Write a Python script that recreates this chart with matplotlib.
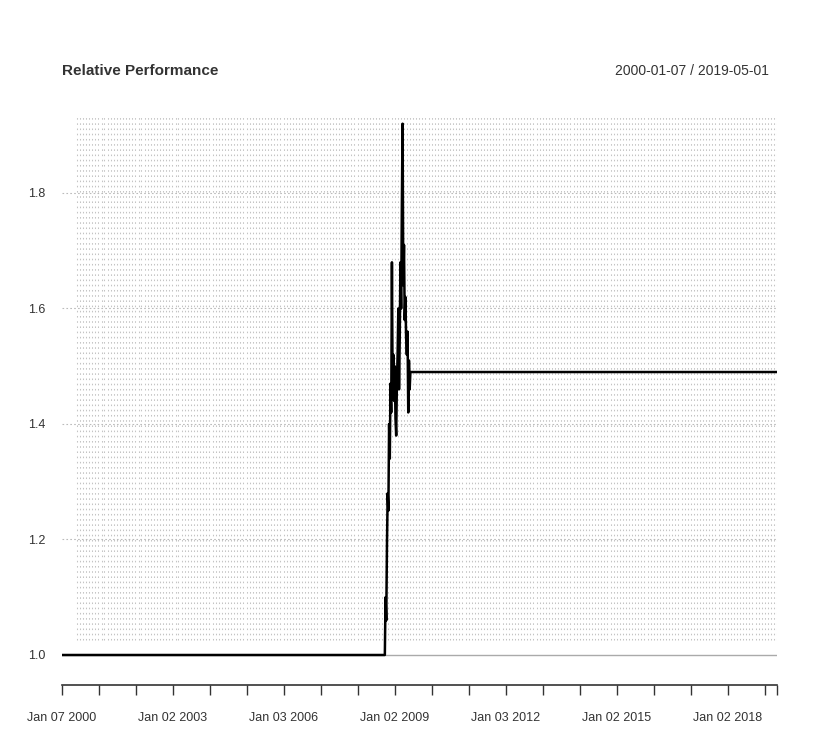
import matplotlib
matplotlib.use("Agg")
import matplotlib.pyplot as plt
import pandas as pd
import numpy as np

plt.rcParams['font.family'] = ['Liberation Sans', 'DejaVu Sans']

# weekly relative performance
start_date = "2000-01-07"
end_date = "2019-05-01"
spike_start = "2008-09-26"
level_before = 1.0
level_after = 1.49
# weekly values during the 2008-2009 swing
spike_vals = [1.00, 1.10, 1.06, 1.19, 1.28, 1.25, 1.40, 1.34, 1.47, 1.42, 1.68, 1.45,
              1.52, 1.44, 1.50, 1.41, 1.38, 1.47, 1.52, 1.60, 1.46, 1.55,
              1.68, 1.60, 1.78, 1.92, 1.64, 1.71, 1.58, 1.62, 1.55, 1.52,
              1.56, 1.42, 1.51, 1.46, 1.49]
yticks = [1.0, 1.2, 1.4, 1.6, 1.8]
xtick_years = list(range(2000, 2020))
xlabel_dates = ["2000-01-07", "2003-01-02", "2006-01-03", "2009-01-02",
                "2012-01-03", "2015-01-02", "2018-01-02"]

dates = pd.date_range(start_date, end_date, freq="W-FRI")
spike_dates = pd.date_range(spike_start, periods=len(spike_vals), freq="W-FRI")
before = dates[dates < spike_dates[0]]
after = dates[dates > spike_dates[-1]]
all_dates = before.append(spike_dates).append(after)
vals = [level_before] * len(before) + spike_vals + [level_after] * len(after)

fig = plt.figure(figsize=(8.4, 7.33), dpi=100)
ax = fig.add_axes([62/840, 1-685/733, (777-62)/840, (685-115)/733])
x0 = pd.Timestamp(start_date)
x1 = pd.Timestamp(end_date)
ax.set_xlim(x0, x1)
ax.set_ylim(1.0 - 30/577.5, 1.0 + 540/577.5)

# dense monthly dotted grid
months = pd.date_range("2000-06-01", end_date, freq="MS")
ax.vlines(months, 1.026, 1.935, colors="#c4c4c4", linewidth=0.75,
          linestyles=(0, (1.5, 3.5)), zorder=0)
for yv in yticks[1:]:
    ax.axhline(yv, color="#bbbbbb", linewidth=0.8, linestyle=(0, (1.5, 2)), zorder=0)
ax.axhline(1.0, color="#aaaaaa", linewidth=1, zorder=1)

ax.plot(all_dates, vals, color="black", linewidth=1.8, zorder=3)

for s in ax.spines.values():
    s.set_visible(False)
ax.spines['bottom'].set_visible(True)
ax.spines['bottom'].set_color("#333333")
ax.spines['bottom'].set_linewidth(1.2)

tick_dates = [pd.Timestamp(f"{y}-01-03") for y in xtick_years[1:]]
tick_dates = [x0] + tick_dates + [x1]
ax.set_xticks(tick_dates)
ax.set_xticklabels([])
ax.tick_params(axis='x', direction='out', length=7, width=1, color="#333333")
for d in xlabel_dates:
    ax.annotate(pd.Timestamp(d).strftime("%b %d %Y"), xy=(pd.Timestamp(d), 0),
                xycoords=('data', 'axes fraction'), xytext=(0, -33),
                textcoords='offset pixels', ha='center', va='center',
                fontsize=9, color="#333333")

ax.set_yticks(yticks)
ax.set_yticklabels([f"{v:.1f}" for v in yticks], fontsize=9, color="#333333")
ax.tick_params(axis='y', length=0, pad=12)

fig.text(62/840, 1-71/733, "Relative Performance", fontsize=11, fontweight='bold',
         color="#333333", ha='left', va='center')
fig.text(769/840, 1-71/733, f"{start_date} / {end_date}", fontsize=10,
         color="#333333", ha='right', va='center')

fig.savefig("out.png", dpi=100)
